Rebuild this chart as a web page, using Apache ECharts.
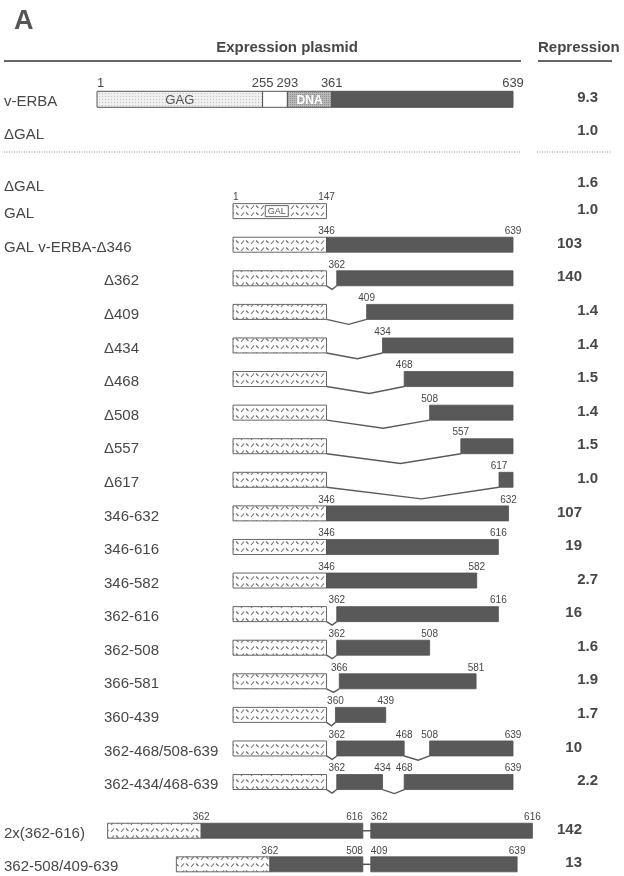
<!DOCTYPE html>
<html>
<head>
<meta charset="utf-8">
<script src="https://cdn.jsdelivr.net/npm/echarts@6/dist/echarts.min.js"></script>
<style>
  html, body { margin: 0; padding: 0; background: #ffffff; }
  #chart { width: 624px; height: 876px; }
</style>
</head>
<body>
<div id="chart"></div>
<script>
// ---- v-ERBA protein map (residue numbers) ----
const verbaDomains = [
  { from: 1,   to: 255, name: 'GAG', kind: 'gag' },
  { from: 255, to: 293, name: '',    kind: 'blank' },
  { from: 293, to: 361, name: 'DNA', kind: 'dna' },
  { from: 361, to: 639, name: '',    kind: 'erba' }
];
const verbaTicks = [1, 255, 293, 361, 639];
const verbaRows = ['v-ERBA', '\u0394GAL'];
const verbaRepression = [9.3, 1.0];

// ---- GAL fusion constructs ----
const constructs = [
  '\u0394GAL', 'GAL', 'GAL v-ERBA-\u0394346',
  '\u0394362', '\u0394409', '\u0394434', '\u0394468', '\u0394508', '\u0394557', '\u0394617',
  '346-632', '346-616', '346-582', '362-616', '362-508', '366-581', '360-439',
  '362-468/508-639', '362-434/468-639',
  '2x(362-616)', '362-508/409-639'
];
const repression = [1.6, 1.0, 103, 140, 1.4, 1.4, 1.5, 1.4, 1.5, 1.0,
  107, 19, 2.7, 16, 1.6, 1.9, 1.7, 10, 2.2, 142, 13];
// GAL DNA-binding domain present (residues 1-147)
const hasGal = [false, true, true, true, true, true, true, true, true, true,
  true, true, true, true, true, true, true, true, true, true, true];
// v-ERBA residue ranges carried by each construct
const erbaParts = [
  [], [],
  [[346, 639]],
  [[362, 639]], [[409, 639]], [[434, 639]], [[468, 639]], [[508, 639]], [[557, 639]], [[617, 639]],
  [[346, 632]], [[346, 616]], [[346, 582]], [[362, 616]], [[362, 508]], [[366, 581]], [[360, 439]],
  [[362, 468], [508, 639]], [[362, 434], [468, 639]],
  [[362, 616], [362, 616]], [[362, 508], [409, 639]]
];
// residue numbers printed above each construct
const residueMarks = [
  [], [1, 147],
  [346, 639],
  [362], [409], [434], [468], [508], [557], [617],
  [346, 632], [346, 616], [346, 582], [362, 616], [362, 508], [366, 581], [360, 439],
  [362, 468, 508, 639], [362, 434, 468, 639],
  [362, 616], [362, 508, 409, 639]
];
// 0 = main entry, 1 = derivative of GAL v-ERBA-Δ346
const constructLevel = [0, 0, 0, 1, 1, 1, 1, 1, 1, 1, 1, 1, 1, 1, 1, 1, 1, 1, 1, 0, 0];
// pieces joined end to end by a short linker
const tandem = [false, false, false, false, false, false, false, false, false, false,
  false, false, false, false, false, false, false, false, false, true, true];

// ---- layout ----
const GAL_RESIDUES = 147;
const GAL_END = 346;          // GAL domain is drawn ending where residue 346 starts
const JOIN = 403;             // linker position for tandem constructs
const LINKER = 12.5;
const BAR_H = 15;
const VERBA_H = 16;
const FONT = "'Liberation Sans', Arial, Helvetica, sans-serif";
const TEXT = '#474747';
const ERBA_FILL = '#595959';

function constructSlot(i) {
  if (i === 0) return 0.2;
  return tandem[i] ? i + 0.45 : i;
}
const verbaSlots = [-2.33, -1.35];

function makePattern(w, h, bg, draw) {
  const c = document.createElement('canvas');
  c.width = w; c.height = h;
  const g = c.getContext('2d');
  g.fillStyle = bg; g.fillRect(0, 0, w, h);
  draw(g);
  return { image: c, repeat: 'repeat' };
}
// short alternating dashes of the GAL domain
const galHatch = makePattern(10, 7, '#ffffff', g => {
  g.strokeStyle = '#6e6e6e'; g.lineWidth = 1.1;
  g.beginPath();
  g.moveTo(1, 6); g.lineTo(4, 2.5);
  g.moveTo(6, 2.5); g.lineTo(8.5, 5);
  g.stroke();
});
const gagStipple = makePattern(3, 3, '#efefef', g => { g.fillStyle = '#c4c4c4'; g.fillRect(0, 0, 1, 1); });
const dnaStipple = makePattern(2, 2, '#b8b8b8', g => { g.fillStyle = '#8e8e8e'; g.fillRect(0, 0, 1, 1); });

function txt(x, y, text, opt) {
  return {
    type: 'text',
    style: Object.assign({
      x: x, y: y, text: text, fill: TEXT,
      font: '10px ' + FONT, align: 'center', verticalAlign: 'bottom'
    }, opt || {})
  };
}

function renderVerba(params, api) {
  const slot = api.value(1);
  const yc = api.coord([1, slot])[1];
  const top = yc - VERBA_H / 2;
  const X = v => api.coord([v, slot])[0];
  const children = [];
  verbaDomains.forEach(d => {
    const fill = d.kind === 'gag' ? gagStipple : d.kind === 'dna' ? dnaStipple :
      d.kind === 'erba' ? ERBA_FILL : '#ffffff';
    children.push({
      type: 'rect',
      shape: { x: X(d.from), y: top, width: X(d.to) - X(d.from), height: VERBA_H },
      style: { fill: fill, stroke: '#555555', lineWidth: 1 }
    });
    if (d.name) {
      const cx = (X(d.from) + X(d.to)) / 2;
      children.push(txt(cx, yc + 1, d.name, d.kind === 'dna'
        ? { fill: '#ffffff', font: 'bold 12px ' + FONT, verticalAlign: 'middle' }
        : { fill: '#555555', font: '13px ' + FONT, verticalAlign: 'middle' }));
    }
  });
  verbaTicks.forEach((t, k) => {
    children.push(txt(X(t), top - 1, String(t), {
      font: '13px ' + FONT, align: k === 0 ? 'left' : 'center'
    }));
  });
  return { type: 'group', children: children };
}

function renderConstruct(params, api) {
  const i = api.value(0);
  const slot = api.value(1);
  if (!hasGal[i]) return { type: 'group', children: [] };
  const X = v => api.coord([v, slot])[0];
  const yc = api.coord([GAL_END, slot])[1];
  const top = yc - BAR_H / 2, bottom = yc + BAR_H / 2;
  const parts = erbaParts[i], marks = residueMarks[i];
  const segs = [];
  let galA, galB;
  if (tandem[i]) {
    let pos = JOIN - (parts[0][1] - parts[0][0]);
    galA = pos - GAL_RESIDUES; galB = pos;
    parts.forEach(p => {
      const len = p[1] - p[0];
      segs.push({ a: pos, b: pos + len, from: p[0], to: p[1] });
      pos += len + LINKER;
    });
  } else {
    galA = GAL_END - GAL_RESIDUES; galB = GAL_END;
    parts.forEach(p => segs.push({ a: p[0], b: p[1], from: p[0], to: p[1] }));
  }
  const children = [];
  // GAL DNA-binding domain
  children.push({
    type: 'rect',
    shape: { x: X(galA), y: top, width: X(galB) - X(galA), height: BAR_H },
    style: { fill: galHatch, stroke: '#666666', lineWidth: 1 }
  });
  if (marks.includes(1)) {
    const cx = (X(galA) + X(galB)) / 2 - 3;
    children.push({
      type: 'rect',
      shape: { x: cx - 11.5, y: yc - 5.5, width: 23, height: 11 },
      style: { fill: '#ffffff', stroke: '#666666', lineWidth: 1 }
    });
    children.push(txt(cx, yc + 0.5, 'GAL', { font: '9px ' + FONT, verticalAlign: 'middle', fill: '#555555' }));
    children.push(txt(X(galA), top - 1, '1', { align: 'left' }));
  }
  if (marks.includes(GAL_RESIDUES)) children.push(txt(X(galB), top - 1, String(GAL_RESIDUES)));

  // v-ERBA pieces, deletion dips and linkers
  let prevEnd = X(galB);
  segs.forEach((s, k) => {
    const xa = X(s.a), xb = X(s.b);
    if (tandem[i] && k > 0) {
      children.push({
        type: 'line', shape: { x1: prevEnd, y1: yc, x2: xa, y2: yc },
        style: { stroke: '#555555', lineWidth: 1.5 }
      });
    } else if (xa - prevEnd > 1.5) {
      const gap = xa - prevEnd;
      const depth = 3 + gap * 0.05;
      children.push({
        type: 'polyline',
        shape: { points: [[prevEnd, bottom], [prevEnd + gap * 0.55, bottom + depth], [xa, bottom]] },
        style: { stroke: '#5a5a5a', lineWidth: 1.4, fill: null }
      });
    }
    children.push({
      type: 'rect',
      shape: { x: xa, y: top, width: xb - xa, height: BAR_H },
      style: { fill: ERBA_FILL, stroke: '#505050', lineWidth: 0.8 }
    });
    if (marks.includes(s.from)) {
      children.push(txt(xa, top - 1, String(s.from), { align: tandem[i] && k > 0 ? 'left' : 'center' }));
    }
    if (marks.includes(s.to)) {
      children.push(txt(xb, top - 1, String(s.to), { align: tandem[i] && k < segs.length - 1 ? 'right' : 'center' }));
    }
    prevEnd = xb;
  });
  return { type: 'group', children: children };
}

// row titles and repression values
const allNames = verbaRows.concat(constructs);
const allLevels = [0, 0].concat(constructLevel);
const allValues = verbaRepression.concat(repression);
const allSlots = verbaSlots.concat(constructs.map((c, i) => constructSlot(i)));

function renderText(params, api) {
  const k = api.value(0);
  const y = api.coord([GAL_END, api.value(1)])[1];
  const v = allValues[k];
  const isDecimal = v < 10;
  return {
    type: 'group',
    children: [
      txt(allLevels[k] ? 104 : 4, y + 3, allNames[k], {
        font: '15px ' + FONT, align: 'left', verticalAlign: 'middle'
      }),
      txt(isDecimal ? 598 : 582, y - 1, isDecimal ? v.toFixed(1) : String(v), {
        font: 'bold 15px ' + FONT, align: 'right', verticalAlign: 'middle'
      })
    ]
  };
}

const chart = echarts.init(document.getElementById('chart'), null, { renderer: 'canvas' });
const yRange = { type: 'value', inverse: true, min: -3.5, max: 20.5, show: false };
chart.setOption({
  animation: false,
  backgroundColor: '#ffffff',
  grid: [
    { left: 97, right: 111, top: 60, bottom: 10 },
    { left: 233, right: 111, top: 60, bottom: 10 }
  ],
  xAxis: [
    { type: 'value', min: 1, max: 639, show: false, gridIndex: 0 },
    { type: 'value', min: GAL_END - GAL_RESIDUES, max: 639, show: false, gridIndex: 1 }
  ],
  yAxis: [
    Object.assign({ gridIndex: 0 }, yRange),
    Object.assign({ gridIndex: 1 }, yRange)
  ],
  graphic: [
    { type: 'text', x: 14, y: 22, style: { text: 'A', font: 'bold 27px ' + FONT, fill: '#555555', align: 'left', verticalAlign: 'middle' } },
    { type: 'text', x: 287, y: 48, style: { text: 'Expression plasmid', font: 'bold 15px ' + FONT, fill: TEXT, align: 'center', verticalAlign: 'middle' } },
    { type: 'text', x: 538, y: 48, style: { text: 'Repression', font: 'bold 15px ' + FONT, fill: TEXT, align: 'left', verticalAlign: 'middle' } },
    { type: 'line', shape: { x1: 4, y1: 61, x2: 521, y2: 61 }, style: { stroke: '#666666', lineWidth: 2 } },
    { type: 'line', shape: { x1: 538, y1: 61, x2: 612, y2: 61 }, style: { stroke: '#666666', lineWidth: 2 } },
    { type: 'line', shape: { x1: 4, y1: 152, x2: 521, y2: 152 }, style: { stroke: '#888888', lineWidth: 1, lineDash: [1, 1.5] } },
    { type: 'line', shape: { x1: 537, y1: 152, x2: 611, y2: 152 }, style: { stroke: '#888888', lineWidth: 1, lineDash: [1, 1.5] } }
  ],
  series: [
    {
      type: 'custom', xAxisIndex: 0, yAxisIndex: 0, clip: false,
      renderItem: renderVerba,
      data: [[0, verbaSlots[0]]]
    },
    {
      type: 'custom', xAxisIndex: 1, yAxisIndex: 1, clip: false,
      renderItem: renderConstruct,
      data: constructs.map((c, i) => [i, constructSlot(i)])
    },
    {
      type: 'custom', xAxisIndex: 1, yAxisIndex: 1, clip: false,
      renderItem: renderText,
      data: allNames.map((n, k) => [k, allSlots[k]])
    }
  ]
});
</script>
</body>
</html>
